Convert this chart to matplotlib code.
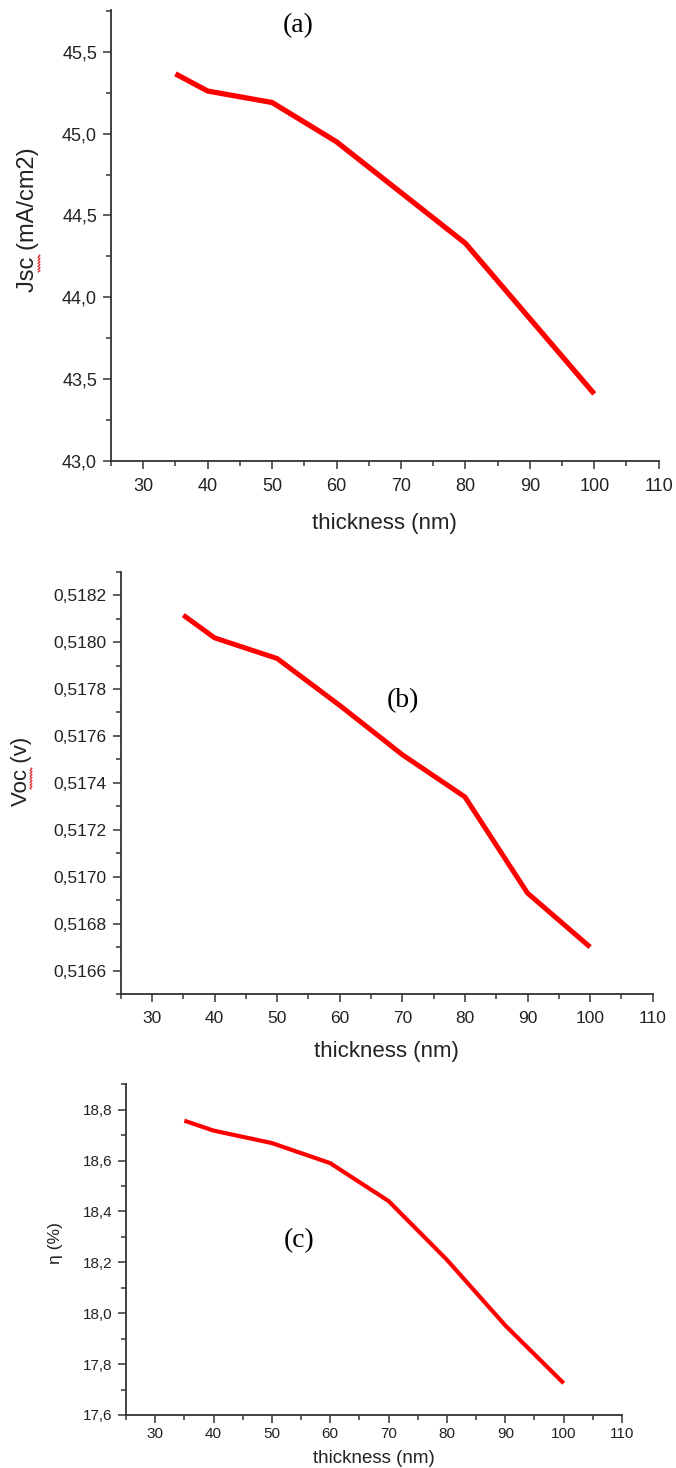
import numpy as np
import matplotlib
matplotlib.use("Agg")
import matplotlib.pyplot as plt
from matplotlib.ticker import MultipleLocator, FuncFormatter
from matplotlib.lines import Line2D

plt.rcParams['font.family'] = ['Liberation Sans', 'DejaVu Sans']

thickness = [35, 40, 50, 60, 70, 80, 90, 100]
jsc = [45.365, 45.26, 45.19, 44.95, 44.64, 44.33, 43.87, 43.41]
voc = [0.518115, 0.518018, 0.51793, 0.51773, 0.51752, 0.51734, 0.51693, 0.51670]
eta = [18.757, 18.718, 18.669, 18.59, 18.441, 18.21, 17.952, 17.725]

W, H = 676, 1468
fig = plt.figure(figsize=(W / 100, H / 100), dpi=100)

def box(left, right, top, bottom):
    return [left / W, (H - bottom) / H, (right - left) / W, (bottom - top) / H]

gray = '#333333'

def comma(dec):
    return FuncFormatter(lambda v, p: ('{:.%df}' % dec).format(v).replace('.', ','))

def style(ax, y, fs, major_y, minor_y, dec, ylim, ylabel, ylab_fs, ylab_xy,
          xlab_fs, xpad, xlabpad, lw):
    ax.plot(thickness, y, color='#ff0000', lw=lw, solid_capstyle='butt')
    ax.set_xlim(25, 110)
    ax.set_ylim(*ylim)
    ax.xaxis.set_major_locator(MultipleLocator(10))
    ax.xaxis.set_minor_locator(MultipleLocator(5))
    ax.yaxis.set_major_locator(MultipleLocator(major_y))
    ax.yaxis.set_minor_locator(MultipleLocator(minor_y))
    ax.yaxis.set_major_formatter(comma(dec))
    for s in ['top', 'right']:
        ax.spines[s].set_visible(False)
    for s in ['left', 'bottom']:
        ax.spines[s].set_linewidth(1.3)
        ax.spines[s].set_color(gray)
    ax.tick_params(which='major', length=6, width=1.1, color=gray, labelsize=fs,
                   labelcolor='#222222')
    ax.tick_params(axis='y', which='major', pad=4)
    ax.tick_params(axis='x', which='major', pad=xpad)
    ax.tick_params(which='minor', length=3.3, width=1.1, color=gray)
    ax.set_xlabel('thickness (nm)', fontsize=xlab_fs, color='#222222', labelpad=xlabpad)
    ax.set_ylabel(ylabel, fontsize=ylab_fs, color='#222222')
    ax.yaxis.set_label_coords(*ylab_xy)

ax1 = fig.add_axes(box(111, 658.7, 10, 461))
ax2 = fig.add_axes(box(120.7, 652.7, 571.7, 994))
ax3 = fig.add_axes(box(126, 622, 1084.3, 1415))

style(ax1, jsc, 13, 0.5, 0.25, 1, (43.0, 45.755), 'Jsc (mA/cm2)', 17,
      (-0.131, 0.534), 16, 6, 13, 3.8)
style(ax2, voc, 12.5, 0.0002, 0.0001, 4, (0.5165, 0.5183), 'Voc (v)', 16,
      (-0.167, 0.526), 16, 6, 11, 3.6)
style(ax3, eta, 11, 0.2, 0.1, 1, (17.6, 18.9), 'η (%)', 12.6,
      (-0.127, 0.52), 13.5, 3, 6, 3.0)

fig.text(298 / W, 1 - 26 / H, '(a)', family='Liberation Serif', fontsize=20,
         ha='center', va='center')
fig.text(403 / W, 1 - 701 / H, '(b)', family='Liberation Serif', fontsize=20,
         ha='center', va='center')
fig.text(299 / W, 1 - 1241 / H, '(c)', family='Liberation Serif', fontsize=20,
         ha='center', va='center')

# red spell-check squiggles under "sc" and "oc"
def squiggle(x0, y0, y1):
    yy = np.linspace(y0, y1, 60)
    xx = x0 + 1.0 * np.sin((yy - y0) * 2 * np.pi / 3.0)
    fig.add_artist(Line2D(xx / W, 1 - yy / H, color='#e03030', lw=0.8,
                          transform=fig.transFigure))

squiggle(39, 255, 272)
squiggle(31, 768, 789)

fig.savefig('out.png', dpi=100)
